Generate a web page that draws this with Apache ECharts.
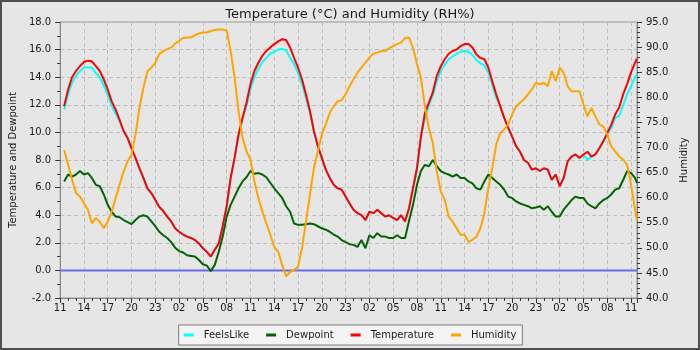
<!DOCTYPE html>
<html>
<head>
<meta charset="utf-8">
<script src="https://cdn.jsdelivr.net/npm/echarts@6/dist/echarts.min.js"></script>
<style>
html,body{margin:0;padding:0;background:#e6e6e6;}
#wrap{position:relative;width:700px;height:350px;}
#chart{width:700px;height:350px;}
#frame{position:absolute;left:0;top:0;width:700px;height:350px;box-sizing:border-box;border:2px solid #4f4f4f;pointer-events:none;}
</style>
</head>
<body>
<div id="wrap"><div id="chart"></div><div id="frame"></div></div>
<script>
// hours since 11:00 on the first day
const hours = [0.5,1,1.5,2,2.5,3,3.5,4,4.5,5,5.5,6,6.5,7,7.5,8,8.5,9,9.5,10,
10.5,11,11.5,12,12.5,13,13.5,14,14.5,15,15.5,16,16.5,17,17.5,18,18.5,19,19.5,20,
20.5,21,21.5,22,22.5,23,23.5,24,24.5,25,25.5,26,26.5,27,27.5,28,28.5,29,29.5,30,
30.5,31,31.5,32,32.5,33,33.5,34,34.5,35,35.5,36,36.5,37,37.5,38,38.5,39,39.5,40,
40.5,41,41.5,42,42.5,43,43.5,44,44.5,45,45.5,46,46.5,47,47.5,48,48.5,49,49.5,50,
50.5,51,51.5,52,52.5,53,53.5,54,54.5,55,55.5,56,56.5,57,57.5,58,58.5,59,59.5,60,
60.5,61,61.5,62,62.5,63,63.5,64,64.5,65,65.5,66,66.5,67,67.5,68,68.5,69,69.5,70,
70.5,71,71.5,72,72.5,72.75];

const temperature = [11.9,13.1,14.0,14.45,14.8,15.1,15.2,15.15,14.8,14.45,
13.85,13.1,12.25,11.65,10.9,10.1,9.6,8.85,8.15,7.4,
6.7,5.95,5.6,5.1,4.6,4.3,3.9,3.55,3.05,2.8,
2.6,2.45,2.35,2.2,1.95,1.6,1.35,1.0,1.5,1.95,
3.2,4.65,6.7,8.15,9.85,11.05,12.15,13.5,14.45,15.05,
15.55,15.9,16.15,16.4,16.6,16.75,16.7,16.15,15.4,14.7,
13.85,12.75,11.55,10.1,9.0,8.15,7.3,6.7,6.2,5.95,
5.85,5.35,4.85,4.4,4.15,4.0,3.65,4.25,4.15,4.4,
4.15,3.9,4.0,3.8,3.65,4.0,3.55,4.5,5.95,7.4,
9.7,11.4,12.15,12.9,14.1,14.8,15.3,15.7,15.9,16.0,
16.25,16.4,16.4,16.15,15.65,15.4,15.3,14.7,13.7,12.75,
11.9,11.05,10.35,9.7,9.0,8.6,8.0,7.8,7.3,7.4,
7.2,7.4,7.3,6.55,6.95,6.1,6.7,7.9,8.25,8.4,
8.15,8.4,8.6,8.25,8.4,8.85,9.35,9.95,10.55,11.3,
11.8,12.75,13.5,14.35,15.05,15.35];

const feelsLike = [11.65,12.75,13.6,14.1,14.45,14.7,14.7,14.7,14.3,14.0,
13.4,12.7,11.95,11.35,10.8,10.1,9.6,8.85,8.15,7.4,
6.7,5.95,5.6,5.1,4.6,4.3,3.9,3.55,3.05,2.8,
2.6,2.45,2.35,2.2,1.95,1.6,1.35,1.0,1.5,1.95,
3.2,4.65,6.7,8.15,9.85,10.95,11.9,13.15,14.0,14.6,
15.1,15.4,15.7,15.85,16.0,16.05,15.95,15.4,14.95,14.3,
13.5,12.5,11.45,10.1,9.0,8.15,7.3,6.7,6.2,5.95,
5.85,5.35,4.85,4.4,4.15,4.0,3.65,4.25,4.15,4.4,
4.15,3.9,4.0,3.8,3.65,4.0,3.55,4.5,5.95,7.4,
9.7,11.0,11.95,12.7,13.7,14.5,14.9,15.3,15.5,15.7,
15.85,15.9,15.85,15.6,15.25,15.0,14.85,14.35,13.45,12.5,
11.9,11.05,10.35,9.7,9.0,8.6,8.0,7.8,7.3,7.4,
7.2,7.4,7.3,6.55,6.95,6.1,6.7,7.9,8.25,8.4,
8.15,8.4,8.0,8.25,8.4,8.85,9.35,9.95,10.3,11.05,
11.2,11.95,12.75,13.35,14.0,14.2];

const dewpoint = [6.45,6.95,6.8,6.95,7.2,6.95,7.05,6.7,6.2,6.1,
5.5,4.75,4.25,3.9,3.85,3.65,3.5,3.35,3.65,3.9,
4.0,3.9,3.55,3.2,2.8,2.55,2.35,2.05,1.65,1.4,
1.3,1.1,1.05,1.0,0.75,0.45,0.35,-0.05,0.4,1.35,
2.45,3.9,4.75,5.35,5.95,6.45,6.75,7.2,7.0,7.05,
6.95,6.75,6.35,5.95,5.6,5.25,4.65,4.25,3.4,3.3,
3.3,3.35,3.4,3.35,3.2,3.05,2.95,2.8,2.6,2.45,
2.2,2.05,1.9,1.85,1.7,2.2,1.6,2.55,2.35,2.7,
2.45,2.45,2.35,2.35,2.55,2.35,2.35,3.6,4.75,6.2,
7.2,7.65,7.55,8.0,7.55,7.2,7.05,6.95,6.8,6.95,
6.7,6.7,6.45,6.3,5.95,5.85,6.45,6.95,6.7,6.45,
6.2,5.85,5.35,5.25,5.0,4.85,4.75,4.65,4.5,4.55,
4.65,4.4,4.65,4.25,3.9,3.9,4.4,4.75,5.1,5.35,
5.25,5.25,4.85,4.65,4.5,4.85,5.1,5.25,5.5,5.85,
5.95,6.55,7.2,7.05,6.7,6.35];

const humidity = [69.5,66.6,63.6,60.9,60.2,58.9,57.6,54.9,55.9,55.2,
53.9,55.2,57.2,59.9,62.6,65.2,67.2,68.6,72.6,77.9,
81.9,85.2,85.9,86.9,88.6,89.2,89.6,89.9,90.7,91.2,
91.8,91.9,91.9,92.4,92.7,92.9,92.9,93.2,93.4,93.5,
93.5,93.3,89.2,83.9,77.2,71.9,69.2,67.6,63.2,59.9,
57.2,54.9,52.6,50.2,49.2,46.6,44.3,45.2,45.6,46.2,
49.9,55.2,60.6,65.9,69.2,72.6,74.6,76.9,78.2,79.2,
79.4,80.6,82.2,83.6,84.9,85.9,86.9,87.9,88.7,88.9,
89.2,89.2,89.8,90.2,90.6,90.9,91.8,91.9,89.9,86.6,
83.9,78.2,73.9,70.9,65.2,61.2,59.6,56.2,55.2,53.9,
52.6,52.6,51.2,51.6,52.2,53.9,56.9,61.9,65.9,70.6,
72.9,73.6,74.6,76.6,78.2,78.9,79.6,80.6,81.6,82.9,
82.6,82.9,82.2,85.2,83.2,85.9,84.9,82.2,81.2,81.2,
81.2,78.6,76.2,77.9,76.2,74.6,74.2,72.6,70.2,69.2,
68.2,67.6,66.6,62.6,57.6,55.6];

const startHour = 11;
const xStart = 0;
const xEnd = 72.75;
const seriesNames = ['FeelsLike', 'Dewpoint', 'Temperature', 'Humidity'];
const seriesColors = ['#00ffff', '#006400', '#ff0000', '#ffa500'];
const titleText = 'Temperature (\u00B0C) and Humidity (RH%)';
const leftAxisName = 'Temperature and Dewpoint';
const rightAxisName = 'Humidity';
const referenceLevel = 0;

function pairs(vals) { return vals.map((v, i) => [hours[i], v]); }

const FONT = 'DejaVu Sans';
const chart = echarts.init(document.getElementById('chart'), null, {renderer: 'canvas'});

const option = {
  backgroundColor: '#e6e6e6',
  animation: false,
  textStyle: {fontFamily: FONT},
  title: {
    text: titleText, left: 'center', top: 3,
    textStyle: {fontFamily: FONT, fontSize: 13, fontWeight: 'normal', color: '#1a1a1a'}
  },
  legend: {
    data: seriesNames, left: 'center', top: 325,
    backgroundColor: '#f4f4f4', borderColor: '#7a7a7a', borderWidth: 1, borderRadius: 0,
    padding: [5, 6, 5, 5], itemGap: 17, itemWidth: 10, itemHeight: 3, icon: 'rect',
    textStyle: {fontFamily: FONT, fontSize: 10, color: '#1a1a1a', padding: [0, 0, 0, 5]}
  },
  grid: {
    left: 55, right: 63, top: 22, bottom: 52,
    show: true, borderColor: '#999', borderWidth: 1, backgroundColor: '#e6e6e6'
  },
  xAxis: {
    type: 'value', min: xStart, max: xEnd, interval: 3,
    axisLine: {onZero: false, lineStyle: {color: '#888'}},
    axisTick: {show: true, length: 5, lineStyle: {color: '#333'}},
    minorTick: {show: true, splitNumber: 3, length: 3, lineStyle: {color: '#333'}},
    axisLabel: {
      fontFamily: FONT, fontSize: 10, color: '#1a1a1a', margin: 5, showMaxLabel: false,
      formatter: function (v) {
        if (Math.abs(v / 3 - Math.round(v / 3)) > 1e-6) return '';
        const h = (startHour + Math.round(v)) % 24;
        return (h < 10 ? '0' : '') + h;
      }
    },
    splitLine: {show: true, lineStyle: {color: '#bdbdbd', type: [4, 3], width: 1}}
  },
  yAxis: [
    {
      type: 'value', min: -2, max: 18, interval: 2, position: 'left',
      name: leftAxisName, nameLocation: 'middle', nameGap: 33, nameRotate: 90,
      nameTextStyle: {fontFamily: FONT, fontSize: 10, color: '#1a1a1a'},
      axisLine: {show: true, onZero: false, lineStyle: {color: '#888'}},
      axisTick: {show: true, length: 5, lineStyle: {color: '#333'}},
      minorTick: {show: true, splitNumber: 2, length: 3, lineStyle: {color: '#333'}},
      axisLabel: {fontFamily: FONT, fontSize: 10, color: '#1a1a1a', margin: 9,
        formatter: v => v.toFixed(1)},
      splitLine: {show: true, lineStyle: {color: '#bdbdbd', type: [4, 3], width: 1}}
    },
    {
      type: 'value', min: 40, max: 95, interval: 5, position: 'right',
      name: rightAxisName, nameLocation: 'middle', nameGap: 40, nameRotate: 90,
      nameTextStyle: {fontFamily: FONT, fontSize: 10, color: '#1a1a1a'},
      axisLine: {show: true, onZero: false, lineStyle: {color: '#888'}},
      axisTick: {show: true, length: 5, lineStyle: {color: '#333'}},
      minorTick: {show: true, splitNumber: 5, length: 3, lineStyle: {color: '#333'}},
      axisLabel: {fontFamily: FONT, fontSize: 10, color: '#1a1a1a', margin: 9,
        formatter: v => v.toFixed(1)},
      splitLine: {show: false}
    }
  ],
  series: [
    {name: 'zero', type: 'line', yAxisIndex: 0, z: 1,
     data: [[xStart, referenceLevel], [xEnd, referenceLevel]],
     showSymbol: false, silent: true, legendHoverLink: false,
     lineStyle: {width: 2, color: '#6a6aee', type: 'solid'}},
    {name: seriesNames[0], type: 'line', yAxisIndex: 0, data: pairs(feelsLike), z: 2,
     showSymbol: false, lineStyle: {width: 2, color: seriesColors[0]}, itemStyle: {color: seriesColors[0]}},
    {name: seriesNames[1], type: 'line', yAxisIndex: 0, data: pairs(dewpoint), z: 2,
     showSymbol: false, lineStyle: {width: 2, color: seriesColors[1]}, itemStyle: {color: seriesColors[1]}},
    {name: seriesNames[2], type: 'line', yAxisIndex: 0, data: pairs(temperature), z: 2,
     showSymbol: false, lineStyle: {width: 2, color: seriesColors[2]}, itemStyle: {color: seriesColors[2]}},
    {name: seriesNames[3], type: 'line', yAxisIndex: 1, data: pairs(humidity), z: 2,
     showSymbol: false, lineStyle: {width: 2, color: seriesColors[3]}, itemStyle: {color: seriesColors[3]}}
  ]
};
chart.setOption(option);
</script>
</body>
</html>
